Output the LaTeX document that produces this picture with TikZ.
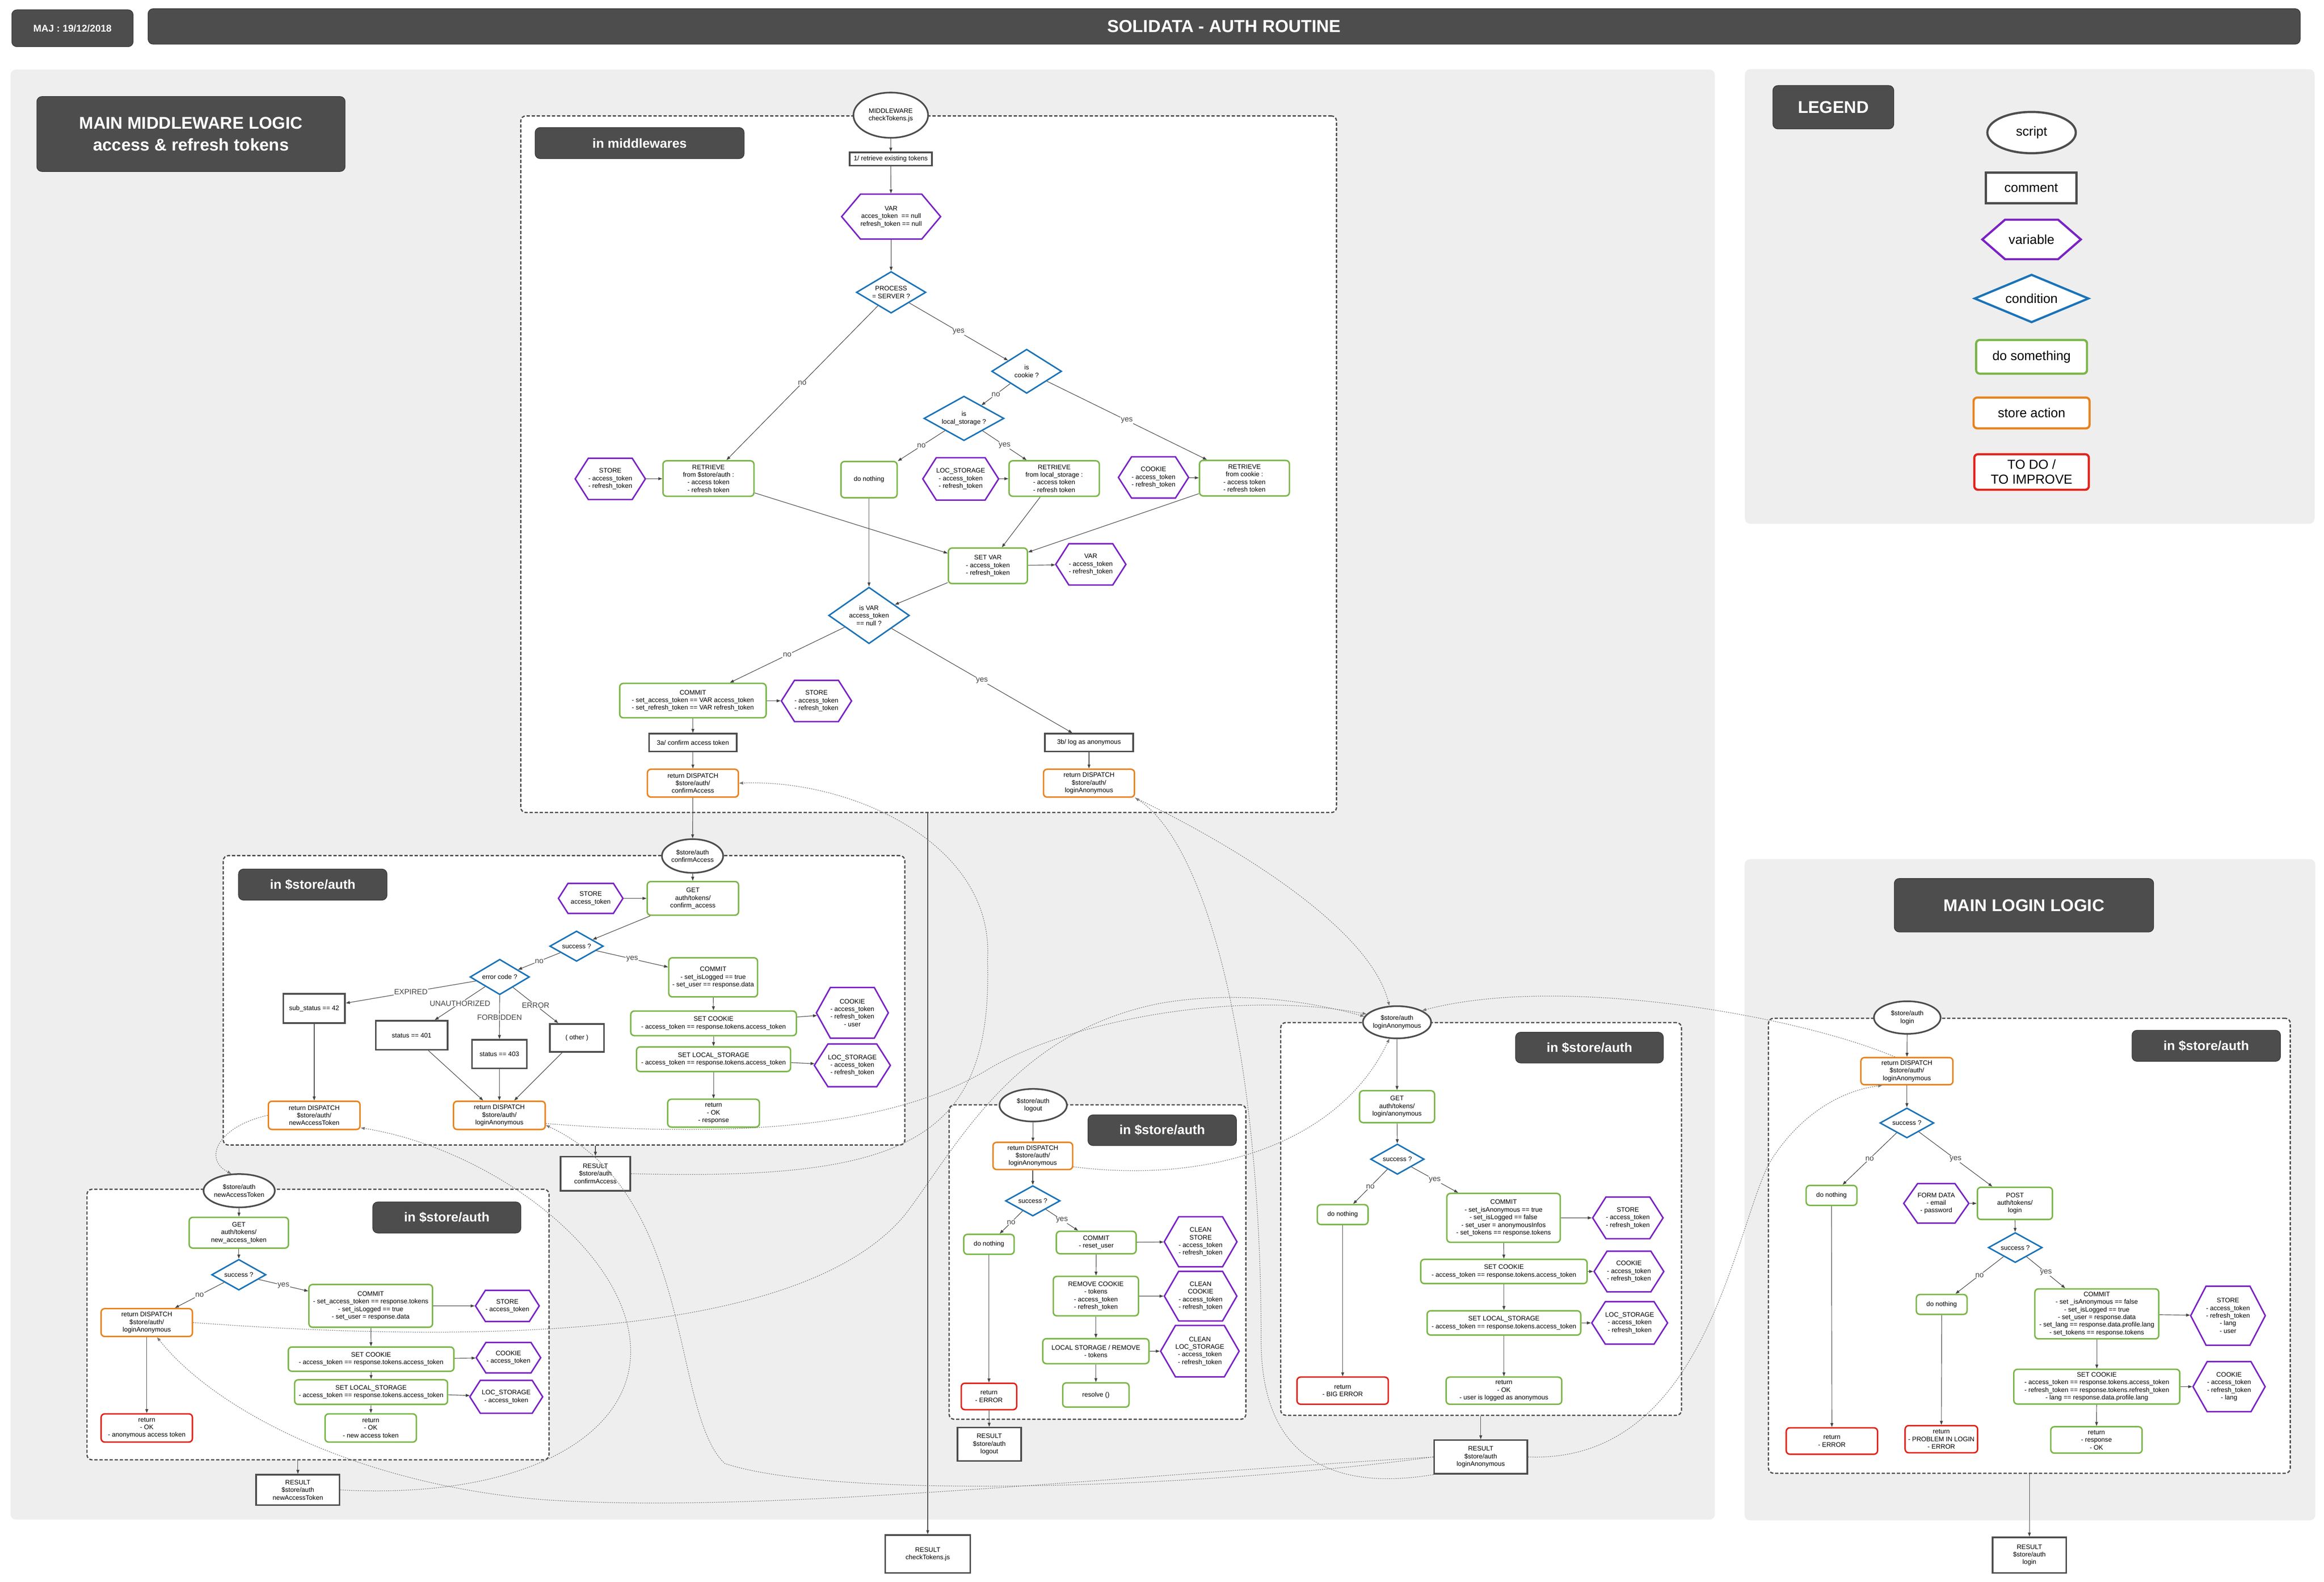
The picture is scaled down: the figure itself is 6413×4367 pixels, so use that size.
\documentclass[tikz,border=0pt]{standalone}
\usepackage{fontspec}
\setmainfont{Liberation Sans}
\usetikzlibrary{shapes.geometric,shapes.symbols,arrows.meta}
\definecolor{agreen}{HTML}{7AB648}
\definecolor{sorange}{HTML}{E8831E}
\definecolor{vpurple}{HTML}{7A22C4}
\definecolor{cblue}{HTML}{1A73B8}
\definecolor{tred}{HTML}{E2231A}
\definecolor{dgray}{HTML}{4D4D4D}
\definecolor{panelc}{HTML}{EEEEEE}
\definecolor{lgray}{HTML}{444444}
\definecolor{xgray}{HTML}{777777}
\newcommand\nfont{\fontsize{18}{21}\selectfont}
\newcommand\lfont{\fontsize{21}{24}\selectfont}
\newcommand\gfont{\fontsize{36}{41}\selectfont}
\newcommand\hfont{\fontsize{36}{42}\selectfont\bfseries}
\newcommand\bigfont{\fontsize{47}{60}\selectfont\bfseries}
\begin{document}
\begin{tikzpicture}[x=1pt,y=-1pt,
  sz/.style 2 args={minimum width=#1pt, minimum height=#2pt},
  basen/.style={align=center, inner sep=0pt, font=\nfont, text=black, fill=white},
  scriptn/.style={basen, ellipse, draw=dgray, line width=4.5pt},
  commn/.style={basen, rectangle, draw=dgray, line width=4.5pt},
  varn/.style={basen, signal, signal to=east and west, signal pointer angle=115, draw=vpurple, line width=4pt},
  condn/.style={basen, diamond, aspect=1.75, draw=cblue, line width=4pt},
  actn/.style={basen, rectangle, rounded corners=10pt, draw=agreen, line width=4pt},
  storen/.style={actn, draw=sorange},
  todon/.style={actn, draw=tred},
  labn/.style={rectangle, rounded corners=14pt, fill=dgray, draw=black!80, line width=1.5pt, text=white, font=\hfont, align=center, inner sep=0pt},
  framen/.style={rectangle, rounded corners=14pt, draw=dgray, line width=3.5pt, dash pattern=on 9pt off 5pt, fill=white, inner sep=0pt},
  conn/.style={draw=lgray, line width=1.5pt, -{Triangle[length=11pt,width=8pt]}},
  lbln/.style={font=\lfont, text=lgray, fill=white, inner sep=1.5pt},
  xref/.style={draw=xgray, line width=1.6pt, dash pattern=on 3pt off 3pt, -{Triangle[length=11pt,width=8pt]}}
]
\useasboundingbox (0,0) rectangle (6413,4367);
\fill[white] (0,0) rectangle (6413,4367);

% header
\node[labn, font=\fontsize{27}{30}\selectfont\bfseries, sz={335}{102}] (maj) at (200,78) {MAJ : 19/12/2018};
\node[labn, font=\fontsize{48}{56}\selectfont\bfseries, sz={5939}{98}] (title) at (3378,73) {SOLIDATA - AUTH ROUTINE};

% panels
\fill[panelc, rounded corners=15pt] (29,192) rectangle (4732,4195);
\fill[panelc, rounded corners=15pt] (4815,191) rectangle (6387,1446);
\fill[panelc, rounded corners=15pt] (4814,2372) rectangle (6389,4197);

\node[labn, font=\bigfont, sz={851}{207}] (mainmw) at (527,370) {MAIN MIDDLEWARE LOGIC\\access \& refresh tokens};
\node[labn, font=\bigfont, sz={716}{148}] (mainlg) at (5585,2499) {MAIN LOGIN LOGIC};

% legend
\node[labn, font=\bigfont, sz={334}{120}] (legT) at (5059,296) {LEGEND};
\node[scriptn, font=\gfont, line width=6pt, sz={244}{114}] (lgScript) at (5606,366) {script};
\node[commn, font=\gfont, line width=6pt, sz={250}{85}] (lgComm) at (5605,519) {comment};
\node[varn, font=\gfont, line width=6pt, signal pointer angle=82, sz={272}{109}] (lgVar) at (5606,661) {variable};
\node[condn, font=\gfont, line width=6pt, aspect=2.4, sz={316}{133}] (lgCond) at (5606,824) {condition};
\node[actn, font=\gfont, line width=6pt, sz={306}{93}] (lgDo) at (5606,985) {do something};
\node[storen, font=\gfont, line width=6pt, sz={320}{85}] (lgStore) at (5606,1140) {store action};
\node[todon, font=\gfont, line width=6pt, sz={316}{98}] (lgTodo) at (5606,1303) {TO DO /\\TO IMPROVE};

% frames
\node[framen, sz={2251}{1923}] (fmw) at (2562.5,1281.5) {};
\node[framen, sz={1881}{799}] (fconf) at (1556.5,2761.5) {};
\node[framen, sz={1275}{747}] (fnew) at (877.5,3656.5) {};
\node[framen, sz={819}{868}] (flo) at (3028.5,3484) {};
\node[framen, sz={1106}{1084}] (fla) at (4087,3365) {};
\node[framen, sz={1440}{1256}] (flg) at (5600,3439) {};

% ---------------- middleware
\node[labn, sz={577}{86}] (inmw) at (1765,395) {in middlewares};
\node[scriptn, sz={206}{125}] (mw) at (2458,318) {MIDDLEWARE\\checkTokens.js};
\node[commn, sz={227}{36}] (c1) at (2458,439) {1/ retrieve existing tokens};
\node[varn, signal pointer angle=100, sz={244}{124}] (varA) at (2459,598) {VAR\\acces\_token~ == null\\refresh\_token == null};
\node[condn, aspect=1.67, sz={192}{115}] (proc) at (2459,807) {PROCESS\\= SERVER ?};
\node[condn, aspect=1.58, sz={193}{122}] (cookieQ) at (2833,1025) {is\\cookie ?};
\node[condn, aspect=1.8, sz={221}{123}] (locQ) at (2660,1155) {is\\local\_storage ?};
\node[varn, sz={186}{114}] (storeH1) at (1684,1322) {STORE\\- access\_token\\- refresh\_token};
\node[actn, sz={251}{98}] (retS) at (1955,1321) {RETRIEVE\\from \$store/auth :\\- access token\\- refresh token};
\node[actn, sz={155}{100}] (doN1) at (2398,1324) {do nothing};
\node[varn, sz={204}{117}] (locH1) at (2651,1322) {LOC\_STORAGE\\- access\_token\\- refresh\_token};
\node[actn, sz={249}{98}] (retL) at (2909,1321) {RETRIEVE\\from local\_storage :\\- access token\\- refresh token};
\node[varn, sz={186}{114}] (cookH1) at (3183,1318) {COOKIE\\- access\_token\\- refresh\_token};
\node[actn, sz={248}{98}] (retC) at (3434,1320) {RETRIEVE\\from cookie :\\- access token\\- refresh token};
\node[actn, sz={218}{98}] (setVar) at (2726,1562) {SET VAR\\- access\_token\\- refresh\_token};
\node[varn, sz={183}{114}] (varH2) at (3010,1558) {VAR\\- access\_token\\- refresh\_token};
\node[condn, aspect=1.43, sz={223}{156}] (isVar) at (2398,1699) {is VAR\\access\_token\\== null ?};
\node[actn, sz={404}{95}] (commitMW) at (1912,1934) {COMMIT\\- set\_access\_token == VAR access\_token\\- set\_refresh\_token == VAR refresh\_token};
\node[varn, sz={182}{114}] (storeH2) at (2253,1935) {STORE\\- access\_token\\- refresh\_token};
\node[commn, sz={242}{49}] (c3a) at (1912,2050) {3a/ confirm access token};
\node[commn, sz={244}{49}] (c3b) at (3005,2050) {3b/ log as anonymous};
\node[storen, sz={251}{77}] (retConf) at (1912,2162) {return DISPATCH\\\$store/auth/\\confirmAccess};
\node[storen, sz={251}{77}] (retLAmw) at (3005,2162) {return DISPATCH\\\$store/auth/\\loginAnonymous};
\node[commn, sz={235}{105}] (resCheck) at (2560,4290) {RESULT\\checkTokens.js};

% ---------------- confirmAccess
\node[labn, sz={410}{86}] (inconf) at (863,2442) {in \$store/auth};
\node[scriptn, sz={169}{93}] (confEll) at (1911,2363) {\$store/auth\\confirmAccess};
\node[varn, sz={178}{83}] (storeC) at (1630,2480) {STORE\\access\_token};
\node[actn, sz={252}{93}] (getC) at (1912,2480) {GET\\auth/tokens/\\confirm\_access};
\node[condn, sz={148}{84}] (succC) at (1591,2612) {success ?};
\node[condn, aspect=1.67, sz={164}{98}] (errQ) at (1379,2697) {error code ?};
\node[actn, sz={245}{108}] (commitC) at (1968,2698) {COMMIT\\- set\_isLogged == true\\- set\_user == response.data};
\node[commn, sz={170}{81}] (subSt) at (867,2784) {sub\_status == 42};
\node[commn, sz={198}{80}] (st401) at (1136,2858) {status == 401};
\node[commn, sz={151}{79}] (st403) at (1378,2910) {status == 403};
\node[commn, sz={150}{77}] (other) at (1592,2865) {( other )};
\node[actn, sz={457}{68}] (setCookC) at (1969,2825) {SET COOKIE\\- access\_token == response.tokens.access\_token};
\node[varn, signal pointer angle=122, sz={188}{140}] (cookC) at (2352,2796) {COOKIE\\- access\_token\\- refresh\_token\\- user};
\node[actn, sz={425}{68}] (setLocC) at (1969,2924) {SET LOCAL\_STORAGE\\- access\_token == response.tokens.access\_token};
\node[varn, sz={205}{118}] (locC) at (2352,2941) {LOC\_STORAGE\\- access\_token\\- refresh\_token};
\node[actn, sz={253}{77}] (retOKC) at (1969,3073) {return\\- OK\\- response};
\node[storen, sz={253}{78}] (retNew) at (867,3079) {return DISPATCH\\\$store/auth/\\newAccessToken};
\node[storen, sz={253}{78}] (retLAc) at (1378,3079) {return DISPATCH\\\$store/auth/\\loginAnonymous};
\node[commn, sz={193}{94}] (resConf) at (1643,3240) {RESULT\\\$store/auth\\confirmAccess};

% ---------------- newAccessToken
\node[labn, sz={409}{86}] (innew) at (1233,3361) {in \$store/auth};
\node[scriptn, sz={193}{92}] (newEll) at (660,3287) {\$store/auth\\newAccessToken};
\node[actn, sz={274}{85}] (getN) at (659,3403) {GET\\auth/tokens/\\new\_access\_token};
\node[condn, sz={150}{85}] (succN) at (659,3519) {success ?};
\node[storen, sz={252}{77}] (retLAn) at (405,3651) {return DISPATCH\\\$store/auth/\\loginAnonymous};
\node[actn, sz={341}{118}] (commitN) at (1023,3605) {COMMIT\\- set\_access\_token == response.tokens\\- set\_isLogged == true\\- set\_user = response.data};
\node[varn, sz={176}{86}] (storeN) at (1400,3605) {STORE\\- access\_token};
\node[actn, sz={457}{67}] (setCookN) at (1024,3752) {SET COOKIE\\- access\_token == response.tokens.access\_token};
\node[varn, sz={178}{84}] (cookN) at (1403,3748) {COOKIE\\- access\_token};
\node[actn, sz={422}{68}] (setLocN) at (1024,3843) {SET LOCAL\_STORAGE\\- access\_token == response.tokens.access\_token};
\node[varn, sz={201}{91}] (locN) at (1397,3856) {LOC\_STORAGE\\- access\_token};
\node[actn, sz={252}{78}] (retOKN) at (1023,3942) {return\\- OK\\- new access token};
\node[todon, sz={252}{78}] (retRedN) at (405,3942) {return\\- OK\\- anonymous access token};
\node[commn, sz={230}{84}] (resNew) at (822,4113) {RESULT\\\$store/auth\\newAccessToken};

% ---------------- logout
\node[labn, sz={410}{85}] (inlo) at (3207,3120) {in \$store/auth};
\node[scriptn, sz={186}{90}] (loEll) at (2851,3051) {\$store/auth\\logout};
\node[storen, sz={220}{75}] (retLAlo) at (2850,3191) {return DISPATCH\\\$store/auth/\\loginAnonymous};
\node[condn, sz={151}{84}] (succLo) at (2850,3315) {success ?};
\node[actn, sz={139}{55}] (doNLo) at (2729,3435) {do nothing};
\node[actn, sz={220}{62}] (commitLo) at (3025,3430) {COMMIT\\- reset\_user};
\node[varn, signal pointer angle=120, sz={191}{138}] (cleanSt) at (3313,3428) {CLEAN\\STORE\\- access\_token\\- refresh\_token};
\node[actn, sz={235}{109}] (remCook) at (3024,3578) {REMOVE COOKIE\\- tokens\\- access\_token\\- refresh\_token};
\node[varn, signal pointer angle=120, sz={191}{137}] (cleanCk) at (3313,3578) {CLEAN\\COOKIE\\- access\_token\\- refresh\_token};
\node[actn, sz={293}{69}] (locRem) at (3024,3730) {LOCAL STORAGE / REMOVE\\- tokens};
\node[varn, signal pointer angle=120, sz={212}{142}] (cleanLoc) at (3311,3730) {CLEAN\\LOC\_STORAGE\\- access\_token\\- refresh\_token};
\node[actn, sz={183}{67}] (resolve) at (3024,3851) {resolve ()};
\node[todon, sz={153}{73}] (retErrLo) at (2729,3855) {return\\- ERROR};
\node[commn, sz={176}{92}] (resLo) at (2730,3987) {RESULT\\\$store/auth\\logout};

% ---------------- loginAnonymous
\node[labn, sz={408}{85}] (inla) at (4386,2892) {in \$store/auth};
\node[scriptn, sz={186}{89}] (laEll) at (3855,2822) {\$store/auth\\loginAnonymous};
\node[actn, sz={207}{88}] (getLA) at (3855,3055) {GET\\auth/tokens/\\login/anonymous};
\node[condn, sz={148}{84}] (succLA) at (3856,3200) {success ?};
\node[actn, sz={140}{55}] (doNLA) at (3705,3353) {do nothing};
\node[actn, sz={313}{135}] (commitLA) at (4149,3362) {COMMIT\\- set\_isAnonymous == true\\- set\_isLogged == false\\- set\_user = anonymousInfos\\- set\_tokens == response.tokens};
\node[varn, sz={185}{115}] (storeLA) at (4492,3362) {STORE\\- access\_token\\- refresh\_token};
\node[actn, sz={459}{67}] (setCookLA) at (4150,3510) {SET COOKIE\\- access\_token == response.tokens.access\_token};
\node[varn, sz={185}{112}] (cookLA) at (4495,3510) {COOKIE\\- access\_token\\- refresh\_token};
\node[actn, sz={424}{67}] (setLocLA) at (4150,3652) {SET LOCAL\_STORAGE\\- access\_token == response.tokens.access\_token};
\node[varn, sz={205}{117}] (locLA) at (4497,3652) {LOC\_STORAGE\\- access\_token\\- refresh\_token};
\node[todon, sz={252}{75}] (retBig) at (3705,3839) {return\\- BIG ERROR};
\node[actn, sz={319}{75}] (retOKLA) at (4150,3839) {return\\- OK\\- user is logged as anonymous};
\node[commn, sz={257}{93}] (resLA) at (4086,4022) {RESULT\\\$store/auth\\loginAnonymous};

% ---------------- login
\node[labn, sz={410}{86}] (inlg) at (6088,2887) {in \$store/auth};
\node[scriptn, sz={184}{90}] (lgEll) at (5263,2809) {\$store/auth\\login};
\node[storen, sz={254}{75}] (retLAlg) at (5262,2957) {return DISPATCH\\\$store/auth/\\loginAnonymous};
\node[condn, sz={149}{83}] (succLg1) at (5262,3100) {success ?};
\node[actn, sz={140}{55}] (doNLg1) at (5054,3300) {do nothing};
\node[varn, signal pointer angle=110, sz={174}{109}] (formH) at (5343,3322) {FORM DATA\\- email\\- password};
\node[actn, sz={207}{89}] (post) at (5560,3322) {POST\\auth/tokens/\\login};
\node[condn, sz={149}{83}] (succLg2) at (5561,3444) {success ?};
\node[actn, sz={140}{55}] (doNLg2) at (5358,3601) {do nothing};
\node[actn, sz={342}{138}] (commitLg) at (5786,3627) {COMMIT\\- set \_isAnonymous == false\\- set\_isLogged == true\\- set\_user = response.data\\- set\_lang == response.data.profile.lang\\- set\_tokens == response.tokens};
\node[varn, signal pointer angle=125, sz={193}{163}] (storeLg) at (6148,3632) {STORE\\- access\_token\\- refresh\_token\\- lang\\- user};
\node[actn, sz={458}{96}] (setCookLg) at (5786,3828) {SET COOKIE\\- access\_token == response.tokens.access\_token\\- refresh\_token == response.tokens.refresh\_token\\- lang == response.data.profile.lang};
\node[varn, signal pointer angle=121, sz={190}{138}] (cookLg) at (6151,3828) {COOKIE\\- access\_token\\- refresh\_token\\- lang};
\node[actn, sz={252}{73}] (retRespLg) at (5785,3975) {return\\- response\\- OK};
\node[todon, sz={252}{73}] (retErrLg) at (5055,3978) {return\\- ERROR};
\node[todon, sz={200}{75}] (retProbLg) at (5357,3973) {return\\- PROBLEM IN LOGIN\\- ERROR};
\node[commn, sz={203}{98}] (resLg) at (5600,4293) {RESULT\\\$store/auth\\login};

% ================= connectors
% middleware
\draw[conn] (mw) -- (c1);
\draw[conn] (c1) -- (varA);
\draw[conn] (varA) -- (proc);
\draw[conn] (proc) -- node[lbln]{yes} (cookieQ);
\draw[conn] (proc) -- node[lbln]{no} (retS);
\draw[conn] (cookieQ) -- node[lbln]{no} (locQ);
\draw[conn] (cookieQ) -- node[lbln]{yes} (retC);
\draw[conn] (locQ) -- node[lbln]{no} (doN1);
\draw[conn] (locQ) -- node[lbln]{yes} (retL);
\draw[conn] (storeH1) -- (retS);
\draw[conn] (locH1) -- (retL);
\draw[conn] (cookH1) -- (retC);
\draw[conn] (retS) -- (setVar);
\draw[conn] (retL) -- (setVar);
\draw[conn] (retC) -- (setVar);
\draw[conn] (setVar) -- (varH2);
\draw[conn] (setVar) -- (isVar);
\draw[conn] (doN1) -- (isVar);
\draw[conn] (isVar) -- node[lbln]{no} (commitMW);
\draw[conn] (isVar) -- node[lbln]{yes} (c3b);
\draw[conn] (commitMW) -- (storeH2);
\draw[conn] (commitMW) -- (c3a);
\draw[conn] (c3a) -- (retConf);
\draw[conn] (c3b) -- (retLAmw);
\draw[conn] (retConf) -- (confEll);
\draw[conn] (fmw.south -| resCheck) -- (resCheck);
% confirmAccess
\draw[conn] (confEll) -- (getC);
\draw[conn] (storeC) -- (getC);
\draw[conn] (getC) -- (succC);
\draw[conn] (succC) -- node[lbln]{no} (errQ);
\draw[conn] (succC) -- node[lbln]{yes} (commitC);
\draw[conn] (errQ) -- node[lbln]{EXPIRED} (subSt);
\draw[conn] (errQ) -- node[lbln]{UNAUTHORIZED} (st401);
\draw[conn] (errQ) -- node[lbln]{FORBIDDEN} (st403);
\draw[conn] (errQ) -- node[lbln]{ERROR} (other);
\draw[conn] (subSt) -- (retNew);
\draw[conn] (st401) -- (retLAc);
\draw[conn] (st403) -- (retLAc);
\draw[conn] (other) -- (retLAc);
\draw[conn] (commitC) -- (setCookC);
\draw[conn] (setCookC) -- (cookC);
\draw[conn] (setCookC) -- (setLocC);
\draw[conn] (setLocC) -- (locC);
\draw[conn] (setLocC) -- (retOKC);
\draw[conn] (fconf.south -| resConf) -- (resConf);
% newAccessToken
\draw[conn] (newEll) -- (getN);
\draw[conn] (getN) -- (succN);
\draw[conn] (succN) -- node[lbln]{no} (retLAn);
\draw[conn] (succN) -- node[lbln]{yes} (commitN);
\draw[conn] (commitN) -- (storeN);
\draw[conn] (commitN) -- (setCookN);
\draw[conn] (setCookN) -- (cookN);
\draw[conn] (setCookN) -- (setLocN);
\draw[conn] (setLocN) -- (locN);
\draw[conn] (setLocN) -- (retOKN);
\draw[conn] (retLAn) -- (retRedN);
\draw[conn] (fnew.south -| resNew) -- (resNew);
% logout
\draw[conn] (loEll) -- (retLAlo);
\draw[conn] (retLAlo) -- (succLo);
\draw[conn] (succLo) -- node[lbln]{no} (doNLo);
\draw[conn] (succLo) -- node[lbln]{yes} (commitLo);
\draw[conn] (commitLo) -- (cleanSt);
\draw[conn] (commitLo) -- (remCook);
\draw[conn] (remCook) -- (cleanCk);
\draw[conn] (remCook) -- (locRem);
\draw[conn] (locRem) -- (cleanLoc);
\draw[conn] (locRem) -- (resolve);
\draw[conn] (doNLo) -- (retErrLo);
\draw[conn] (retErrLo) -- (resLo);
% loginAnonymous
\draw[conn] (laEll) -- (getLA);
\draw[conn] (getLA) -- (succLA);
\draw[conn] (succLA) -- node[lbln]{no} (doNLA);
\draw[conn] (succLA) -- node[lbln]{yes} (commitLA);
\draw[conn] (commitLA) -- (storeLA);
\draw[conn] (commitLA) -- (setCookLA);
\draw[conn] (setCookLA) -- (cookLA);
\draw[conn] (setCookLA) -- (setLocLA);
\draw[conn] (setLocLA) -- (locLA);
\draw[conn] (setLocLA) -- (retOKLA);
\draw[conn] (doNLA) -- (retBig);
\draw[conn] (fla.south -| resLA) -- (resLA);
% login
\draw[conn] (lgEll) -- (retLAlg);
\draw[conn] (retLAlg) -- (succLg1);
\draw[conn] (succLg1) -- node[lbln]{no} (doNLg1);
\draw[conn] (succLg1) -- node[lbln]{yes} (post);
\draw[conn] (formH) -- (post);
\draw[conn] (post) -- (succLg2);
\draw[conn] (succLg2) -- node[lbln]{no} (doNLg2);
\draw[conn] (succLg2) -- node[lbln]{yes} (commitLg);
\draw[conn] (commitLg) -- (storeLg);
\draw[conn] (commitLg) -- (setCookLg);
\draw[conn] (setCookLg) -- (cookLg);
\draw[conn] (setCookLg) -- (retRespLg);
\draw[conn] (doNLg1) -- (retErrLg);
\draw[conn] (doNLg2) -- (retProbLg);
\draw[conn] (flg.south -| resLg) -- (resLg);

% ================= cross references (dotted)
\draw[xref] (resConf.east) .. controls (2500,3260) and (2740,3150) .. (2725,2650) .. controls (2745,2330) and (2350,2150) .. (retConf.east);
\draw[xref] (retLAmw.south east) .. controls (3400,2330) and (3780,2560) .. (laEll.115);
\draw[xref] (resLA.south west) .. controls (3720,4110) and (3480,4060) .. (3480,3700) .. controls (3480,2900) and (3330,2330) .. (retLAmw.south east);
\draw[xref] (retLAc.-10) .. controls (2000,3140) and (2450,3120) .. (2730,2950) .. controls (2950,2820) and (3400,2730) .. (laEll.165);
\draw[xref] (resLA.west) .. controls (3300,4110) and (2300,4140) .. (2000,4040) .. controls (1850,3900) and (1920,3300) .. (retLAc.-12);
\draw[xref] (retLAn.east) .. controls (1200,3700) and (2200,3720) .. (2500,3350) .. controls (2650,3150) and (2800,2850) .. (3200,2770) .. controls (3400,2735) and (3600,2760) .. (laEll.170);
\draw[xref] (resLA.west) .. controls (3000,4080) and (2100,4180) .. (1500,4140) .. controls (1000,4100) and (600,3900) .. (retLAn.-55);
\draw[xref] (retLAlo.-15) .. controls (3350,3270) and (3700,3150) .. (laEll.-115);
\draw[xref] (retLAlg.130) .. controls (4950,2800) and (4300,2690) .. (laEll.25);
\draw[xref] (resLA.east) .. controls (4700,4040) and (4780,3420) .. (4880,3215) .. controls (4960,3080) and (5080,3010) .. (retLAlg.-150);
\draw[xref] (retNew.west) .. controls (600,3110) and (560,3200) .. (newEll.115);
\draw[xref] (resNew.east) .. controls (1450,4140) and (1750,3960) .. (1740,3720) .. controls (1730,3450) and (1350,3170) .. (retNew.-15);
\end{tikzpicture}
\end{document}
